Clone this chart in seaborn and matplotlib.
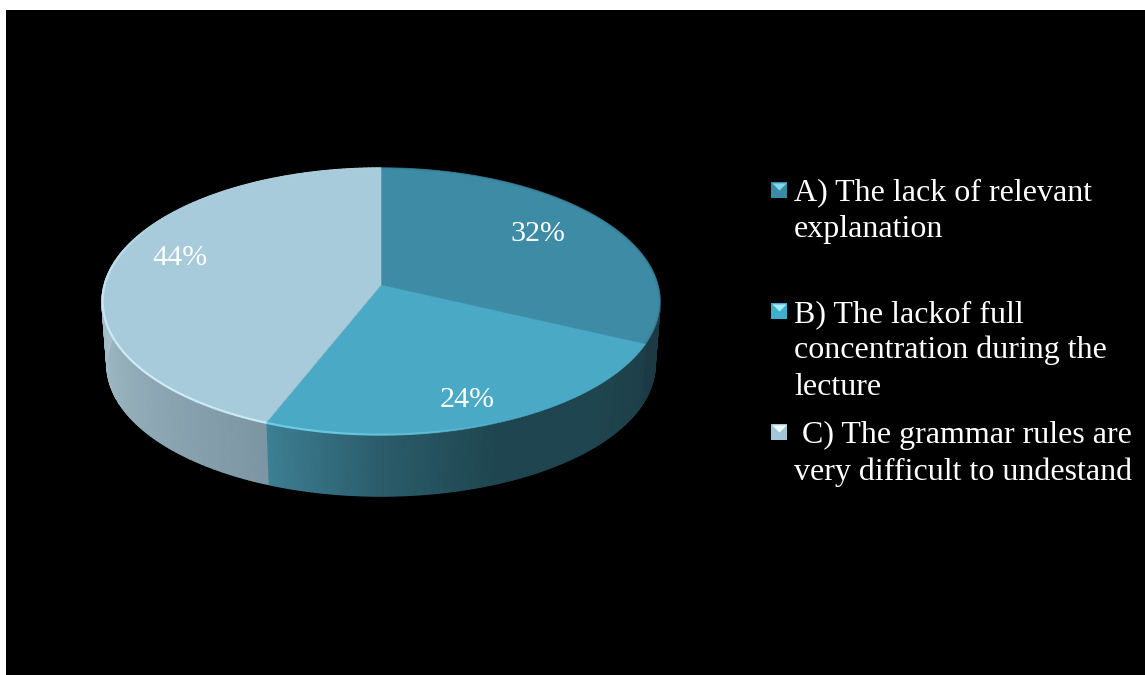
import numpy as np
import matplotlib
matplotlib.use("Agg")
import matplotlib.pyplot as plt
from matplotlib.collections import PolyCollection, LineCollection
import seaborn as sns

# Survey shares for each reason
categories = ["A", "B", "C"]
shares = [32, 24, 44]
share_labels = ["32%", "24%", "44%"]
legend_entries = [
    ["A) The lack of relevant", "explanation"],
    ["B) The lackof full", "concentration during the", "lecture"],
    [" C) The grammar rules are", "very difficult to undestand"],
]

# Styling
top_colors = ["#3E8BA6", "#4AA9C5", "#A8CBDB"]
side_ramps = [
    ["#1C3C45", "#1B3A43"],
    ["#1D3F49", "#1F4650", "#1F4650", "#2B5D6B", "#3E8095"],
    ["#7C97A3", "#A6C0CB"],
]
rim_colors = ["#2C6A80", "#7FDCF5", "#D4F4FF"]
rim_base_alpha = [0.2, 0.0, 0.06]
swatch_colors = ["#3A8BA6", "#3FAFCF", "#A3C7D6"]
swatch_tops = ["#7FD8EE", "#A5ECFA", "#F2FBFF"]
label_anchors = [(538, 234), (467, 400), (180, 258)]
swatch_centres = [(778.5, 190.5), (778.5, 311.5), (779, 432.5)]
line_baselines = [[200, 237], [322, 358, 395], [443, 480]]
text_left = 794

sns.set_theme(style="dark", rc={"figure.facecolor": "white"})
plt.rcParams["font.family"] = ["Liberation Serif", "DejaVu Serif"]

fig = plt.figure(figsize=(11.45, 6.75), dpi=100)
ax = fig.add_axes([6 / 1145, 0, 1139 / 1145, 665 / 675])
ax.set_xlim(6, 1145)
ax.set_ylim(675, 10)
ax.set_facecolor("black")
ax.set_xticks([])
ax.set_yticks([])
ax.grid(False)
for spine in ax.spines.values():
    spine.set_visible(False)

# Perspective projection of the unit disc onto the page
CX, CY = 381.0, 285.0
HALF_W, HALF_H, TILT = 276.9, 131.5, 0.1236
DEPTH, BASE_SCALE = 63.7, 0.982


def project(theta, scale=1.0, drop=0.0):
    """theta is measured clockwise from twelve o'clock, in radians."""
    u, v = np.sin(theta), np.cos(theta)
    den = 1 + TILT * v
    return np.column_stack([
        CX + scale * HALF_W * u / den,
        CY + drop - scale * HALF_H * v / den,
    ])


edges = 2 * np.pi * np.concatenate([[0], np.cumsum(shares)]) / sum(shares)

# Outer wall, shaded along each slice's arc
for i in range(len(shares)):
    n = 160
    th = np.linspace(edges[i], edges[i + 1], n + 1)
    top, bottom = project(th), project(th, BASE_SCALE, DEPTH)
    quads = [np.array([top[j], top[j + 1], bottom[j + 1], bottom[j]]) for j in range(n)]
    # the visible stretch of the wall ends at the left-hand extreme of the disc
    visible = np.clip((th[:-1] - edges[i]) / (min(edges[i + 1], 1.5 * np.pi) - edges[i]), 0, 1)
    ramp = sns.blend_palette(side_ramps[i], 256)
    cols = [ramp[int(t * 255)] for t in visible]
    ax.add_collection(PolyCollection(quads, facecolors=cols, edgecolors=cols, linewidths=1.0, zorder=2))

# Slice faces
for i in range(len(shares)):
    arc = project(np.linspace(edges[i], edges[i + 1], 240))
    ax.fill(*np.vstack([[CX, CY], arc]).T, color=top_colors[i], lw=0.4, zorder=3)

# Bevel along the rim: a highlight at the front-left, a soft tone elsewhere
for i in range(len(shares)):
    th = np.linspace(edges[i], edges[i + 1], 240)
    pts = project(th, 0.9975)
    segs = np.stack([pts[:-1], pts[1:]], axis=1)
    strength = np.clip(np.cos((th[:-1] - np.radians(228)) * 90 / 70), 0, 1) ** 0.6
    strength[np.abs(th[:-1] - np.radians(228)) > np.radians(70)] = 0
    rgb = matplotlib.colors.to_rgb(rim_colors[i])
    cols = [(*rgb, max(0.85 * s, rim_base_alpha[i])) for s in strength]
    ax.add_collection(LineCollection(segs, colors=cols, linewidths=1.6, zorder=4))

# Percentage labels
for text, (x, y) in zip(share_labels, label_anchors):
    ax.text(x, y, text, color="white", fontsize=21.6, ha="center", va="center", zorder=5)

# Legend: bevelled square swatches with wrapped text beside them
for i, ((sx, sy), lines, ys) in enumerate(zip(swatch_centres, legend_entries, line_baselines)):
    ax.scatter([sx], [sy], marker="s", s=135, color=swatch_colors[i], linewidths=0, zorder=5)
    ax.scatter([sx], [sy], marker=[(-1, 1), (1, 1), (0, 0)], s=105, color=swatch_tops[i], linewidths=0, zorder=6)
    for line, y in zip(lines, ys):
        ax.text(text_left, y, line, color="white", fontsize=23, ha="left", va="baseline", zorder=5)

fig.savefig("out.png", dpi=100, facecolor="white")
